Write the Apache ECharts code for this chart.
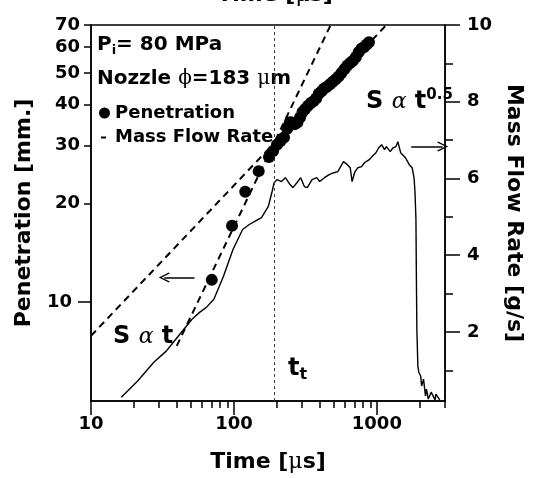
<!DOCTYPE html>
<html>
<head>
<meta charset="utf-8">
<script src="https://cdn.jsdelivr.net/npm/echarts@6/dist/echarts.min.js"></script>
<style>
html, body { margin: 0; padding: 0; background: #fff; }
#chart { width: 533px; height: 478px; }
</style>
</head>
<body>
<div id="chart"></div>
<script>
// axis ticks (real units, log axes are drawn in log10 space)
var timeTicks = [10, 100, 1000];
var timeMinorTicks = [20, 30, 40, 50, 60, 70, 80, 90, 200, 300, 400, 500, 600, 700, 800, 900, 2000, 3000];
var penMajorTicks = [10];
var penTicks = [20, 30, 40, 50, 60, 70];
var flowTicks = [2, 4, 6, 8, 10];
var flowMinorTicks = [1, 3, 5, 7, 9];

// spray penetration [mm] vs time [us]
var penTime = [70, 97, 120, 149, 176, 188, 200, 212, 224, 236, 246, 256, 266, 278, 290, 302, 315, 330, 345, 360,
    376, 392, 410, 428, 448, 470, 492, 515, 540, 565, 592, 620, 650, 680, 712, 745, 780, 815, 850, 880];
var penValue = [11.7, 17.1, 21.7, 25.1, 27.7, 28.9, 30.2, 31.0, 31.8, 33.8, 35.4, 35.3, 34.9, 35.3, 36.6, 38.0, 38.8, 39.7, 40.5, 41.0,
    41.8, 43.2, 44.0, 44.8, 45.4, 46.2, 47.0, 47.8, 48.8, 50.0, 51.3, 52.6, 53.6, 54.5, 55.8, 57.8, 59.3, 60.0, 61.0, 62.0];

// mass flow rate [g/s] vs time [us]
var flowTime = [16.3, 21.2, 27.5, 33.6, 39.2, 50.9, 57.5, 64.1, 72.4, 84.5, 98.5, 115, 128, 140, 156, 174, 185, 191, 200, 215,
    229, 247, 259, 280, 293, 311, 326, 352, 380, 398, 430, 464, 501, 533, 558, 584, 622, 651, 671, 703,
    736, 782, 819, 885, 926, 985, 1031, 1080, 1131, 1166, 1240, 1298, 1360, 1402, 1445, 1468, 1514, 1585, 1686, 1765,
    1820, 1848, 1877, 1891, 1905, 1936, 1965, 2026, 2057, 2122, 2188, 2223, 2291, 2399, 2552, 2590, 2754];
var flowValue = [0.30, 0.72, 1.21, 1.50, 1.81, 2.33, 2.51, 2.64, 2.85, 3.45, 4.15, 4.67, 4.80, 4.88, 4.98, 5.27, 5.66, 5.89, 5.97, 5.92,
    6.02, 5.84, 5.76, 5.92, 6.02, 5.79, 5.76, 5.97, 6.02, 5.92, 6.02, 6.10, 6.15, 6.18, 6.31, 6.44, 6.36, 6.28, 5.92, 6.18,
    6.28, 6.31, 6.41, 6.49, 6.57, 6.67, 6.80, 6.88, 6.75, 6.83, 6.70, 6.80, 6.83, 6.96, 7.01, 6.67, 6.70, 6.54, 6.36, 6.28,
    6.02, 5.66, 4.93, 3.37, 2.07, 1.11, 0.95, 0.85, 0.59, 0.77, 0.33, 0.51, 0.25, 0.43, 0.23, 0.38, 0.23];

// fitted trends S ~ t and S ~ t^0.5 (end points)
var fitLinTime = [39.8, 475];
var fitLinPen = [7.36, 70];
var fitSqrtTime = [10, 1166];
var fitSqrtPen = [7.9, 70];

var transitionTime = 189;
var leftArrowTime = [53, 32.6], leftArrowPen = 11.9;
var rightArrowTime = [1738, 2884], rightArrowFlow = 6.83;

var lg = Math.log10;
var FONT = 'DejaVu Sans';
var black = '#000';
var chevron = 'path://M5,0L10,9L9,10L5,2.5L1,10L0,9Z';

function pairs(xs, ys, fy) {
    return xs.map(function (x, i) { return [lg(x), fy ? fy(ys[i]) : ys[i]]; });
}
function fmtPow(v) { return Math.round(Math.pow(10, v)); }

var labelStyle = { color: black, fontFamily: FONT, fontWeight: 'bold', fontSize: 18 };
var nameStyle = { color: black, fontFamily: FONT, fontWeight: 'bold', fontSize: 22,
    rich: { g: { fontFamily: 'DejaVu Serif', fontWeight: 'normal', fontSize: 22, color: black } } };
var lineBlack = { color: black, width: 1.5 };

var chart = echarts.init(document.getElementById('chart'));

var option = {
    animation: false,
    backgroundColor: '#fff',
    grid: { left: 91, right: 72, top: 25, bottom: 76, show: true, borderColor: black, borderWidth: 1.5, backgroundColor: 'transparent' },
    legend: {
        orient: 'vertical', left: 99, top: 104, padding: 0, itemGap: 6,
        itemWidth: 11, itemHeight: 11, selectedMode: false,
        textStyle: { color: black, fontFamily: FONT, fontWeight: 'bold', fontSize: 18 },
        data: [
            { name: 'Penetration', icon: 'circle' },
            { name: 'Mass Flow Rate', icon: 'path://M0,0h0.01v0.01h-0.01z M2,5h5v2h-5z M10.99,10.99h0.01v0.01h-0.01z' }
        ]
    },
    xAxis: [
        {
            type: 'value', min: lg(10), max: lg(3000),
            axisLine: { lineStyle: lineBlack },
            axisTick: { customValues: timeTicks.map(lg), length: 14, lineStyle: lineBlack },
            axisLabel: { customValues: timeTicks.map(lg), formatter: fmtPow, margin: 14, ...labelStyle },
            splitLine: { show: false },
            name: 'Time [{g|μ}s]', nameLocation: 'middle', nameGap: 50, nameTextStyle: nameStyle
        },
        {
            type: 'value', position: 'bottom', min: lg(10), max: lg(3000),
            axisLine: { show: false },
            axisTick: { customValues: timeMinorTicks.map(lg), length: 7, lineStyle: lineBlack },
            axisLabel: { show: false },
            splitLine: { show: false }
        }
    ],
    yAxis: [
        {
            type: 'value', position: 'left', min: lg(5), max: lg(70),
            axisLine: { show: true, lineStyle: lineBlack },
            axisTick: { customValues: penMajorTicks.map(lg), length: 13, lineStyle: lineBlack },
            axisLabel: { customValues: penMajorTicks.map(lg), formatter: fmtPow, margin: 19, ...labelStyle },
            splitLine: { show: false },
            name: 'Penetration [mm.]', nameLocation: 'middle', nameGap: 56, nameTextStyle: nameStyle
        },
        {
            type: 'value', position: 'right', min: 0.2, max: 10,
            axisLine: { show: true, lineStyle: lineBlack },
            axisTick: { customValues: flowTicks, length: 15, lineStyle: lineBlack },
            axisLabel: { customValues: flowTicks, margin: 22, ...labelStyle },
            splitLine: { show: false },
            name: 'Mass Flow Rate [g/s]', nameLocation: 'middle', nameGap: 41, nameRotate: -90, nameTextStyle: nameStyle
        },
        {
            type: 'value', position: 'left', min: lg(5), max: lg(70),
            axisLine: { show: false },
            axisTick: { customValues: penTicks.map(lg), length: 7, lineStyle: lineBlack },
            axisLabel: { customValues: penTicks.map(lg), formatter: fmtPow, margin: 11, ...labelStyle },
            splitLine: { show: false }
        },
        {
            type: 'value', position: 'right', min: 0.2, max: 10,
            axisLine: { show: false },
            axisTick: { customValues: flowMinorTicks, length: 8, lineStyle: lineBlack },
            axisLabel: { show: false },
            splitLine: { show: false }
        }
    ],
    series: [
        {
            name: 'Penetration', type: 'scatter', xAxisIndex: 0, yAxisIndex: 0,
            symbolSize: 12, itemStyle: { color: black, opacity: 1 }, z: 5,
            data: pairs(penTime, penValue, lg)
        },
        {
            name: 'Mass Flow Rate', type: 'line', xAxisIndex: 0, yAxisIndex: 1,
            symbol: 'none', lineStyle: { color: black, width: 1.4 }, itemStyle: { color: black },
            data: pairs(flowTime, flowValue),
            markLine: {
                silent: true, symbol: ['none', chevron], symbolSize: [10, 11],
                label: { show: false }, lineStyle: { color: black, width: 1.5, type: 'solid' },
                data: [[{ coord: [lg(rightArrowTime[0]), rightArrowFlow] }, { coord: [lg(rightArrowTime[1]), rightArrowFlow] }]]
            }
        },
        {
            name: 'S ~ t', type: 'line', xAxisIndex: 0, yAxisIndex: 0,
            symbol: 'none', lineStyle: { color: black, width: 2, type: [7, 5] },
            data: pairs(fitLinTime, fitLinPen, lg),
            markLine: {
                silent: true, symbol: ['none', chevron], symbolSize: [10, 11],
                label: { show: false }, lineStyle: { color: black, width: 1.5, type: 'solid' },
                data: [[{ coord: [lg(leftArrowTime[0]), lg(leftArrowPen)] }, { coord: [lg(leftArrowTime[1]), lg(leftArrowPen)] }]]
            }
        },
        {
            name: 'S ~ t^0.5', type: 'line', xAxisIndex: 0, yAxisIndex: 0,
            symbol: 'none', lineStyle: { color: black, width: 2, type: [7, 5] },
            data: pairs(fitSqrtTime, fitSqrtPen, lg),
            markLine: {
                silent: true, symbol: 'none',
                label: { show: false }, lineStyle: { color: '#444', width: 1, type: [3, 3] },
                data: [{ xAxis: lg(transitionTime) }]
            }
        }
    ],
    graphic: [
        {
            type: 'text', x: 275, y: -5,
            style: { text: 'Time [{g|μ}s]', align: 'center', verticalAlign: 'middle', fill: black,
                fontFamily: FONT, fontWeight: 'bold', fontSize: 22,
                rich: { g: { fontFamily: 'DejaVu Serif', fontSize: 22, fill: black } } }
        },
        {
            type: 'text', x: 97, y: 45,
            style: { text: 'P{sub|i}= 80 MPa', align: 'left', verticalAlign: 'middle', fill: black,
                fontFamily: FONT, fontWeight: 'bold', fontSize: 20, lineHeight: 24,
                rich: { sub: { fontFamily: FONT, fontWeight: 'bold', fontSize: 13, lineHeight: 13, verticalAlign: 'bottom', fill: black } } }
        },
        {
            type: 'text', x: 97, y: 79,
            style: { text: 'Nozzle {g|ϕ}=183 {g|μ}m', align: 'left', verticalAlign: 'middle', fill: black,
                fontFamily: FONT, fontWeight: 'bold', fontSize: 20, lineHeight: 24,
                rich: { g: { fontFamily: 'DejaVu Serif', fontSize: 20, fill: black } } }
        },
        {
            type: 'text', x: 113, y: 337,
            style: { text: 'S {g|α} t', align: 'left', verticalAlign: 'middle', fill: black,
                fontFamily: FONT, fontWeight: 'bold', fontSize: 24, lineHeight: 28,
                rich: { g: { fontFamily: 'DejaVu Serif', fontStyle: 'italic', fontSize: 22, fill: black } } }
        },
        {
            type: 'text', x: 366, y: 102,
            style: { text: 'S {g|α} t{sup|0.5}', align: 'left', verticalAlign: 'middle', fill: black,
                fontFamily: FONT, fontWeight: 'bold', fontSize: 24, lineHeight: 28,
                rich: {
                    g: { fontFamily: 'DejaVu Serif', fontStyle: 'italic', fontSize: 22, fill: black },
                    sup: { fontFamily: FONT, fontWeight: 'bold', fontSize: 15, lineHeight: 15, verticalAlign: 'top', fill: black }
                } }
        },
        {
            type: 'text', x: 288, y: 369,
            style: { text: 't{sub|t}', align: 'left', verticalAlign: 'middle', fill: black,
                fontFamily: FONT, fontWeight: 'bold', fontSize: 24, lineHeight: 28,
                rich: { sub: { fontFamily: FONT, fontWeight: 'bold', fontSize: 16, lineHeight: 16, verticalAlign: 'bottom', fill: black } } }
        }
    ]
};

chart.setOption(option);
</script>
</body>
</html>
